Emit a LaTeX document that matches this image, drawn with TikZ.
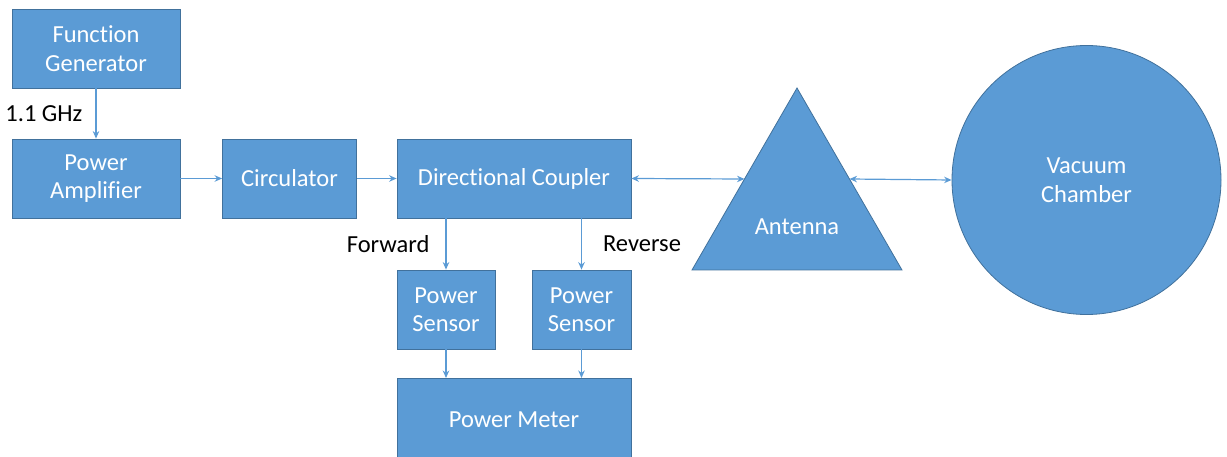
\documentclass[tikz,border=0pt]{standalone}
\usepackage{fontspec}
\setmainfont{Carlito}[Ligatures=NoCommon]
\usetikzlibrary{arrows.meta}
\definecolor{boxfill}{HTML}{5B9BD5}
\definecolor{boxline}{HTML}{41719C}
\tikzset{
  block/.style={draw=boxline, line width=0.8pt, fill=boxfill, text=white,
    align=center, inner sep=0pt, font=\fontsize{24.5}{28.5}\selectfont},
  link/.style={draw=boxfill, line width=1.2pt, -{Stealth[length=7.5pt,width=6.5pt]}},
  dlink/.style={draw=boxfill, line width=1.2pt, {Stealth[length=7.5pt,width=6.5pt]}-{Stealth[length=7.5pt,width=6.5pt]}},
  tag/.style={text=black, font=\fontsize{24.5}{28.5}\selectfont, inner sep=0pt}
}
\begin{document}
\begin{tikzpicture}[x=1pt,y=-1pt]
\useasboundingbox (0,0) rectangle (1227,457);

% rectangular blocks
\node[block, minimum width=168, minimum height=79] (fg)  at (96,48.5)   {Function\\Generator};
\node[block, minimum width=168, minimum height=79] (pa)  at (96,178.5)  {Power\\Amplifier};
\node[block, minimum width=134, minimum height=79] (cir) at (289.5,178.5) {Circulator};
\node[block, minimum width=234, minimum height=79] (dc)  at (514,178.5) {Directional Coupler};
\node[block, minimum width=98,  minimum height=79] (ps1) at (446,309.5) {Power\\Sensor};
\node[block, minimum width=99,  minimum height=79] (ps2) at (581.5,309.5) {Power\\Sensor};
\node[block, minimum width=234, minimum height=84, anchor=north] (pm) at (514,378) {};
\node[block, draw=none, fill=none] (pmt) at (514,420) {Power Meter};

% antenna triangle
\filldraw[draw=boxline, line width=0.8pt, fill=boxfill] (692,270) -- (797,88) -- (902,270) -- cycle;
\node[block, draw=none, fill=none] (ant) at (797,227) {Antenna};
\coordinate (antL) at (744.5,179);
\coordinate (antR) at (849.5,179);

% vacuum chamber
\node[block, circle, minimum size=269] (vac) at (1086.5,180) {Vacuum\\Chamber};

% signal path
\draw[link] (fg) -- node[tag, left=13pt] {1.1 GHz} (pa);
\draw[link] (pa) -- (cir);
\draw[link] (cir) -- (dc);
\draw[dlink] (dc.east) -- (antL);
\draw[dlink] (antR) -- (vac.west);

% coupled ports
\draw[link] (dc.south -| ps1.north) -- node[tag, left=16pt] {Forward} (ps1.north);
\draw[link] (dc.south -| ps2.north) -- node[tag, right=21pt] {Reverse} (ps2.north);
\draw[link] (ps1.south) -- (ps1.south |- pm.north);
\draw[link] (ps2.south) -- (ps2.south |- pm.north);
\end{tikzpicture}
\end{document}
